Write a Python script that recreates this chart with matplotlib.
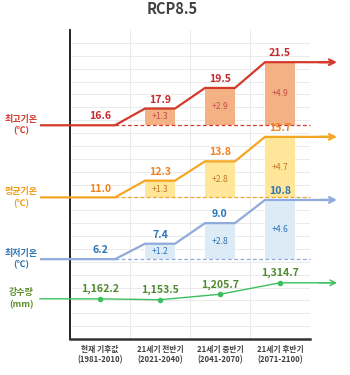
import matplotlib
matplotlib.use("Agg")
import matplotlib.pyplot as plt
import matplotlib.transforms as mtransforms
import numpy as np

plt.rcParams['font.family'] = ['Noto Sans CJK KR', 'DejaVu Sans']

# ---- data ----
periods = ['현재 기후값', '21세기 전반기', '21세기 중반기', '21세기 후반기']
years = ['(1981-2010)', '(2021-2040)', '(2041-2070)', '(2071-2100)']
tmax = [16.6, 17.9, 19.5, 21.5]
tavg = [11.0, 12.3, 13.8, 15.7]
tmin = [6.2, 7.4, 9.0, 10.8]
precip = [1162.2, 1153.5, 1205.7, 1314.7]
series_names = ['최고기온\n(℃)', '평균기온\n(℃)', '최저기온\n(℃)']
precip_name = '강수량\n(mm)'
title = 'RCP8.5'

fig = plt.figure(figsize=(3.5, 3.75), dpi=100)
ax = fig.add_axes([70/350, 36/375, 240/350, 309/375])
ax.set_xlim(-0.5, 3.5)
ax.set_ylim(0, 24)
ax2 = ax.twinx()
ax2.set_ylim(780, 3720)

# grid
for g in range(1, 24):
    ax.axhline(g, color='#E8E8E8', lw=0.6, zorder=0)
for vx in [0.5, 1.5, 2.5]:
    ax.axvline(vx, color='#E8E8E8', lw=0.6, zorder=0)

for s in ['top', 'right']:
    ax.spines[s].set_visible(False)
    ax2.spines[s].set_visible(False)
ax2.spines['left'].set_visible(False)
ax2.spines['bottom'].set_visible(False)
ax.spines['left'].set_color('#111111')
ax.spines['left'].set_linewidth(1.3)
ax.spines['bottom'].set_color('#333333')
ax.spines['bottom'].set_linewidth(1.8)
ax.set_yticks([])
ax2.set_yticks([])

x = np.arange(len(periods))
ax.set_xticks(x)
ax.set_xticklabels([f'{p}\n{yv}' for p, yv in zip(periods, years)],
                   fontsize=5.6, fontweight='bold', color='#404040', linespacing=1.3)
ax.tick_params(axis='x', length=0, pad=4)

label_tr = mtransforms.blended_transform_factory(fig.transFigure, ax.transData)
label_tr2 = mtransforms.blended_transform_factory(fig.transFigure, ax2.transData)

styles = [
    (tmax, '#D33A2C', '#C8282D', '#F4B183', '#C0504D', '#D33A2C'),
    (tavg, '#F5A623', '#F0821E', '#FFE699', '#C07A28', '#F39C12'),
    (tmin, '#8FAADC', '#2E75B6', '#DDEBF7', '#2E75B6', '#2E75B6'),
]

x_start = -1.0
x_end = 3.95
half = 0.25

for (vals, lc, tc, bc, btc, namec), name in zip(styles, series_names):
    v = np.array(vals)
    base = v[0]
    diffs = v[1:] - base
    # bars
    ax.bar(x[1:], diffs, bottom=base, width=0.5, color=bc, zorder=2)
    for xi, d, top in zip(x[1:], diffs, v[1:]):
        ax.text(xi, base + d / 2, f'+{d:.1f}', ha='center', va='center',
                fontsize=6.2, color=btc, zorder=5)
    # dashed baseline
    ax.plot([x[0] + half, 3.5], [base, base], ls=(0, (3, 2)), lw=0.9,
            color=lc, zorder=3, clip_on=False)
    # step line
    px = [x_start]
    py = [base]
    for i in range(len(v)):
        if i > 0:
            px.append(x[i] - half)
            py.append(v[i])
        px.append(x[i] + half if i < len(v) - 1 else x_end - 0.05)
        py.append(v[i])
    ax.plot(px, py, color=lc, lw=1.6, zorder=4, clip_on=False,
            solid_capstyle='butt', solid_joinstyle='miter')
    ax.annotate('', xy=(x_end, v[-1]), xytext=(x_end - 0.3, v[-1]),
                arrowprops=dict(arrowstyle='->', color=lc, lw=1.6,
                                mutation_scale=10, shrinkA=0, shrinkB=0),
                annotation_clip=False, zorder=4)
    # value labels
    for xi, val in zip(x, v):
        ax.text(xi, val + 0.3, f'{val:.1f}', ha='center', va='bottom',
                fontsize=7.6, fontweight='bold', color=tc, zorder=6)
    # left label
    ax.text(21/350, base, name, transform=label_tr, ha='center', va='center',
            fontsize=6.5, fontweight='bold', color=namec, linespacing=1.4)

# precipitation
pc = '#3CBF5F'
p = np.array(precip)
ax2.plot([x_start] + list(x) + [x_end - 0.05], [p[0]] + list(p) + [p[-1]],
         color=pc, lw=1.0, zorder=4, clip_on=False)
ax2.plot(x, p, 'o', color=pc, ms=3, zorder=5, clip_on=False)
ax2.annotate('', xy=(x_end, p[-1]), xytext=(x_end - 0.3, p[-1]),
             arrowprops=dict(arrowstyle='->', color=pc, lw=1.0,
                             mutation_scale=10, shrinkA=0, shrinkB=0),
             annotation_clip=False)
for xi, val in zip(x, p):
    ax2.text(xi, val + 45, f'{val:,.1f}', ha='center', va='bottom',
             fontsize=7.6, fontweight='bold', color='#4E8A2E')
ax2.text(21/350, p[0], precip_name, transform=label_tr2, ha='center', va='center',
         fontsize=6.5, fontweight='bold', color='#5C8F2A', linespacing=1.4)

fig.text(172/350, 1 - 9/375, title, ha='center', va='center',
         fontsize=10.5, fontweight='bold', color='#404040')

fig.savefig('out.png', dpi=100)
